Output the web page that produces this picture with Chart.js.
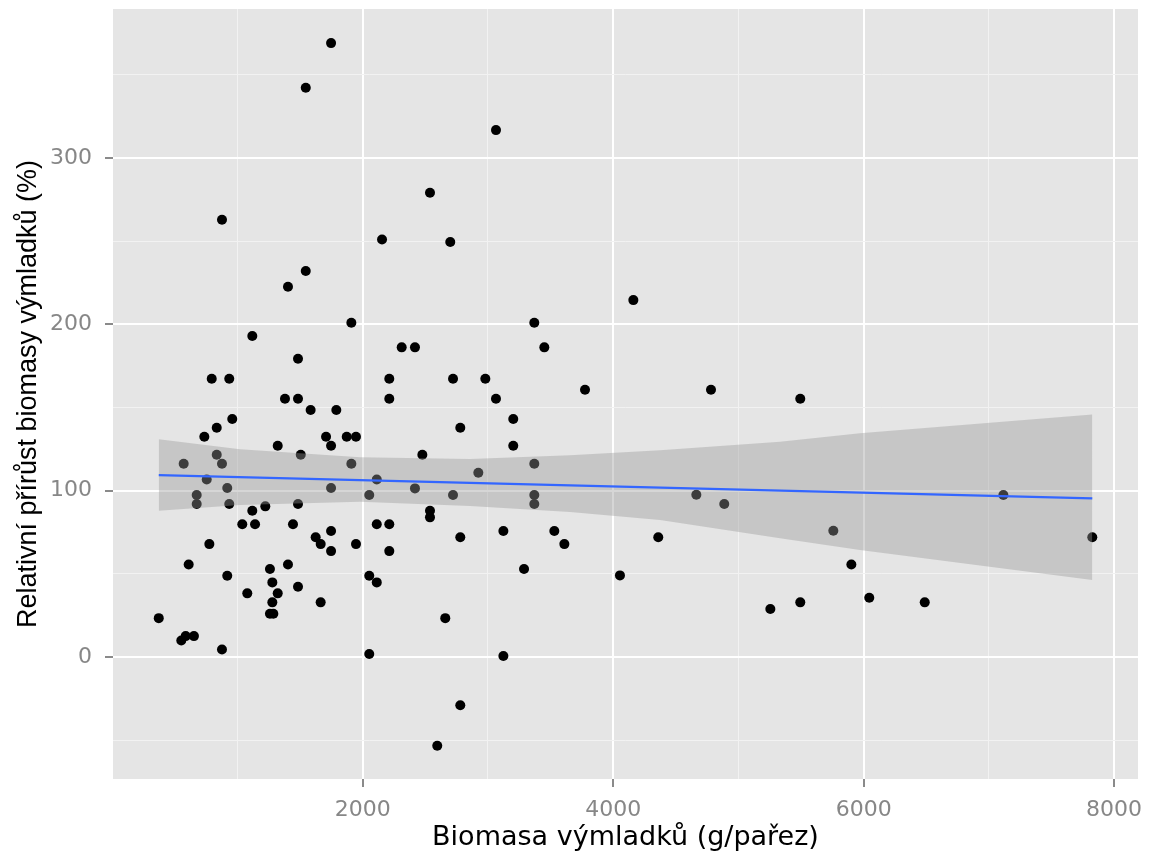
<!DOCTYPE html>
<html>
<head>
<meta charset="utf-8">
<script src="https://cdn.jsdelivr.net/npm/chart.js@4/dist/chart.umd.min.js"></script>
<style>
  html, body { margin: 0; padding: 0; background: #ffffff; }
  #wrap { width: 1150px; height: 857px; position: relative; }
</style>
</head>
<body>
<div id="wrap"><canvas id="c" width="1150" height="857"></canvas></div>
<script>
// Biomass of sprouts (g/stump) and relative biomass growth (%) per stump
const biomass = [
  371, 551, 586, 652, 570, 610, 674, 674, 735, 754,
  775, 794, 834, 834, 876, 876, 876, 918, 918, 934,
  934, 958, 1038, 1078, 1118, 1118, 1140, 1222, 1259, 1259,
  1286, 1278, 1278, 1321, 1321, 1379, 1403, 1403, 1443, 1483,
  1483, 1483, 1483, 1505, 1545, 1545, 1584, 1624, 1664, 1664,
  1707, 1747, 1747, 1747, 1747, 1747, 1789, 1872, 1909, 1909,
  1946, 1946, 2052, 2052, 2052, 2112, 2112, 2112, 2154, 2212,
  2212, 2212, 2212, 2311, 2417, 2417, 2476, 2537, 2537, 2537,
  2595, 2659, 2699, 2721, 2721, 2779, 2779, 2779, 2923, 2979,
  3064, 3064, 3123, 3123, 3202, 3202, 3288, 3370, 3370, 3370,
  3370, 3450, 3530, 3610, 3775, 4054, 4161, 4360, 4664, 4781,
  4887, 5255, 5494, 5494, 5758, 5902, 6045, 6488, 7116, 7826
];
const growth = [
  23.4, 10.0, 12.6, 12.6, 116.2, 55.7, 97.4, 92.0, 132.4, 106.8,
  67.9, 167.3, 137.9, 121.6, 262.9, 116.2, 4.6, 101.6, 48.9, 167.3,
  92.0, 143.1, 79.8, 38.3, 193.0, 88.0, 79.8, 90.6, 52.9, 26.0,
  26.0, 44.9, 32.9, 127.0, 38.3, 155.3, 222.6, 55.7, 79.8, 179.3,
  155.3, 92.0, 42.3, 121.6, 342.3, 232.1, 148.5, 72.0, 67.9, 32.9,
  132.4, 369.1, 127.0, 101.6, 75.8, 63.7, 148.5, 132.4, 201.0, 116.2,
  132.4, 67.9, 97.4, 48.9, 1.8, 106.8, 79.8, 44.9, 251.0, 167.3,
  155.3, 79.8, 63.7, 186.2, 186.2, 101.4, 121.6, 279.1, 88.0, 84.0,
  -53.3, 23.4, 249.5, 167.3, 97.4, 137.9, 72.0, -29.0, 110.8, 167.3,
  316.8, 155.3, 75.8, 0.6, 143.1, 127.0, 52.9, 201.0, 116.2, 97.4,
  92.0, 186.2, 75.8, 67.9, 160.7, 49.1, 214.6, 72.0, 97.6, 160.7,
  92.0, 28.9, 155.3, 32.9, 75.9, 55.7, 35.7, 32.9, 97.4, 72.0
];

// Linear fit and its confidence band
const fitX = [371, 7826];
const fitY = [109.4, 95.4];
const bandX = [371, 1020, 1978, 2857, 3655, 4374, 5332, 5970, 7826];
const bandUpper = [130.9, 125.0, 120.1, 119.0, 121.4, 124.4, 129.4, 134.5, 145.9];
const bandLower = [88.0, 91.4, 93.4, 90.8, 87.2, 82.4, 71.5, 64.3, 46.3];

// Axis breaks
const xMajor = [2000, 4000, 6000, 8000];
const xMinor = [1000, 3000, 5000, 7000];
const yMajor = [0, 100, 200, 300];
const yMinor = [-50, 50, 150, 250, 350];

const xTitle = 'Biomasa výmladků (g/pařez)';
const yTitle = 'Relativní přírůst biomasy výmladků (%)';

const toXY = (xs, ys) => xs.map((x, i) => ({ x: x, y: ys[i] }));

const panelBackground = {
  id: 'panelBackground',
  beforeDraw(chart) {
    const { ctx, chartArea: a } = chart;
    ctx.save();
    ctx.fillStyle = '#E5E5E5';
    ctx.fillRect(a.left, a.top, a.right - a.left, a.bottom - a.top);
    ctx.restore();
  }
};

const tickFont = { family: 'DejaVu Sans', size: 22 };
const tickColor = '#878787';

function gridOptions(major) {
  return {
    color: c => major.includes(c.tick.value) ? '#FFFFFF' : '#F2F2F2',
    lineWidth: c => major.includes(c.tick.value) ? 2 : 1,
    tickColor: c => major.includes(c.tick.value) ? '#8A8A8A' : 'rgba(0,0,0,0)',
    tickLength: 8,
    tickWidth: 2,
    drawOnChartArea: true
  };
}

new Chart(document.getElementById('c'), {
  type: 'scatter',
  data: {
    datasets: [
      {
        type: 'line',
        label: 'fit',
        data: toXY(fitX, fitY),
        borderColor: '#3366FF',
        borderWidth: 2.2,
        pointRadius: 0,
        fill: false,
        order: 1
      },
      {
        type: 'line',
        label: 'upper',
        data: toXY(bandX, bandUpper),
        borderColor: 'rgba(0,0,0,0)',
        borderWidth: 0,
        pointRadius: 0,
        backgroundColor: 'rgba(153,153,153,0.4)',
        fill: '+1',
        order: 2
      },
      {
        type: 'line',
        label: 'lower',
        data: toXY(bandX, bandLower),
        borderColor: 'rgba(0,0,0,0)',
        borderWidth: 0,
        pointRadius: 0,
        fill: false,
        order: 2
      },
      {
        label: 'growth',
        data: toXY(biomass, growth),
        backgroundColor: '#000000',
        borderWidth: 0,
        pointRadius: 5,
        order: 3
      }
    ]
  },
  options: {
    responsive: false,
    animation: false,
    devicePixelRatio: 1,
    layout: { padding: { top: 9, right: 12, left: 0, bottom: 0 } },
    plugins: {
      legend: { display: false },
      tooltip: { enabled: false }
    },
    scales: {
      x: {
        type: 'linear',
        min: 5.6,
        max: 8191,
        afterBuildTicks: axis => { axis.ticks = xMinor.concat(xMajor).sort((a, b) => a - b).map(v => ({ value: v })); },
        afterFit: scale => { scale.height = 78; scale.paddingLeft = 0; scale.paddingRight = 0; },
        ticks: {
          autoSkip: false,
          maxRotation: 0,
          padding: 10,
          font: tickFont,
          color: tickColor,
          callback: v => xMajor.includes(v) ? String(v) : ''
        },
        grid: gridOptions(xMajor),
        border: { display: false },
        title: {
          display: true,
          text: xTitle,
          color: '#000000',
          font: { family: 'DejaVu Sans', size: 27 },
          padding: { top: 0, bottom: 3 }
        }
      },
      y: {
        type: 'linear',
        min: -73.3,
        max: 389.6,
        afterBuildTicks: axis => { axis.ticks = yMinor.concat(yMajor).sort((a, b) => a - b).map(v => ({ value: v })); },
        afterFit: scale => { scale.width = 113; scale.paddingTop = 0; scale.paddingBottom = 0; },
        ticks: {
          autoSkip: false,
          padding: 13,
          font: tickFont,
          color: tickColor,
          callback: v => yMajor.includes(v) ? String(v) : ''
        },
        grid: gridOptions(yMajor),
        border: { display: false },
        title: {
          display: true,
          text: yTitle,
          color: '#000000',
          font: { family: 'Liberation Sans', size: 27 },
          padding: { top: 12, bottom: 0 }
        }
      }
    }
  },
  plugins: [panelBackground]
});
</script>
</body>
</html>
